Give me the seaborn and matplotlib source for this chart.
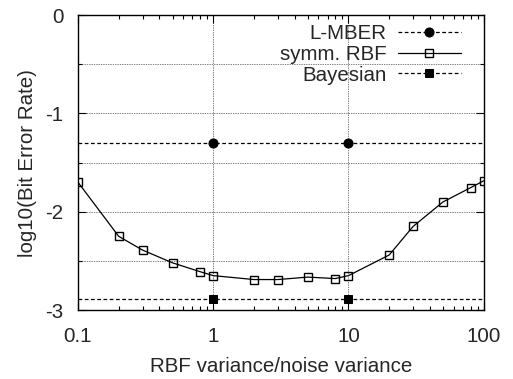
import numpy as np
import pandas as pd
import matplotlib
matplotlib.use("Agg")
import matplotlib.pyplot as plt
import seaborn as sns
from matplotlib.ticker import FixedLocator, NullFormatter, LogLocator

# Data
rbf_x = [0.1, 0.2, 0.3, 0.5, 0.8, 1, 2, 3, 5, 8, 10, 20, 30, 50, 80, 100]
rbf_y = [-1.70, -2.25, -2.39, -2.52, -2.61, -2.65, -2.69, -2.69, -2.665, -2.68, -2.65, -2.44, -2.15, -1.90, -1.755, -1.685]
lmber_x = [0.1, 1, 10, 100]
lmber_y = [-1.30, -1.30, -1.30, -1.30]
bayes_x = [0.1, 1, 10, 100]
bayes_y = [-2.89, -2.89, -2.89, -2.89]
marker_idx = [1, 2]  # markers only at the measured points (1 and 10)

sns.set_style("ticks")
plt.rcParams['font.family'] = ['Liberation Sans', 'DejaVu Sans']
FS = 14.8

fig = plt.figure(figsize=(5.13, 3.79), dpi=100)
ax = fig.add_axes([0.152, 0.182, 0.791, 0.778])

sns.lineplot(x=lmber_x, y=lmber_y, ax=ax, color='black', linestyle=(0, (3, 2)), lw=0.9,
             marker='o', markersize=6.5, markevery=marker_idx, markeredgecolor='black',
             label='L-MBER')
sns.lineplot(x=rbf_x, y=rbf_y, ax=ax, color='black', linestyle='-', lw=0.9,
             marker='s', markersize=6.2, markerfacecolor='none', markeredgecolor='black',
             markeredgewidth=1.0, label='symm. RBF')
sns.lineplot(x=bayes_x, y=bayes_y, ax=ax, color='black', linestyle=(0, (3, 2)), lw=0.9,
             marker='s', markersize=6, markevery=marker_idx, markeredgecolor='black',
             label='Bayesian')

ax.set_xscale('log')
ax.set_xlim(0.1, 100)
ax.set_ylim(-3, 0)
ax.set_xticks([0.1, 1, 10, 100])
ax.set_xticklabels(['0.1', '1', '10', '100'])
ax.xaxis.set_minor_locator(LogLocator(base=10, subs=np.arange(2, 10)))
ax.xaxis.set_minor_formatter(NullFormatter())
ax.set_yticks([-3, -2, -1, 0])
ax.set_yticklabels(['-3', '-2', '-1', '0'])
ax.yaxis.set_minor_locator(FixedLocator([-2.5, -1.5, -0.5]))

ax.tick_params(which='both', direction='in', top=True, right=True, labelsize=FS, width=0.8, color='black')
ax.tick_params(which='major', length=6)
ax.tick_params(axis='x', which='major', pad=12.5)
ax.tick_params(axis='y', which='major', pad=10.5)
ax.tick_params(which='minor', length=3)

ax.grid(True, which='major', axis='both', linestyle=(0, (1, 1.5)), color='black', lw=0.5)
ax.grid(True, which='minor', axis='y', linestyle=(0, (1, 1.5)), color='black', lw=0.5)
ax.xaxis.grid(True, which='minor', alpha=0)
for s in ax.spines.values():
    s.set_color('black')
    s.set_linewidth(1.0)

ax.set_xlabel('RBF variance/noise variance', fontsize=FS, labelpad=8)
ax.set_ylabel('log10(Bit Error Rate)', fontsize=FS, labelpad=6)

leg = ax.legend(loc='upper right', bbox_to_anchor=(0.953, 0.983), frameon=False,
                markerfirst=False, fontsize=FS,
                handlelength=3.05, handletextpad=0.55, labelspacing=0.08,
                borderaxespad=0.0, borderpad=0.2)
for t in leg.get_texts():
    t.set_ha('right')

fig.savefig('out.png', dpi=100)
